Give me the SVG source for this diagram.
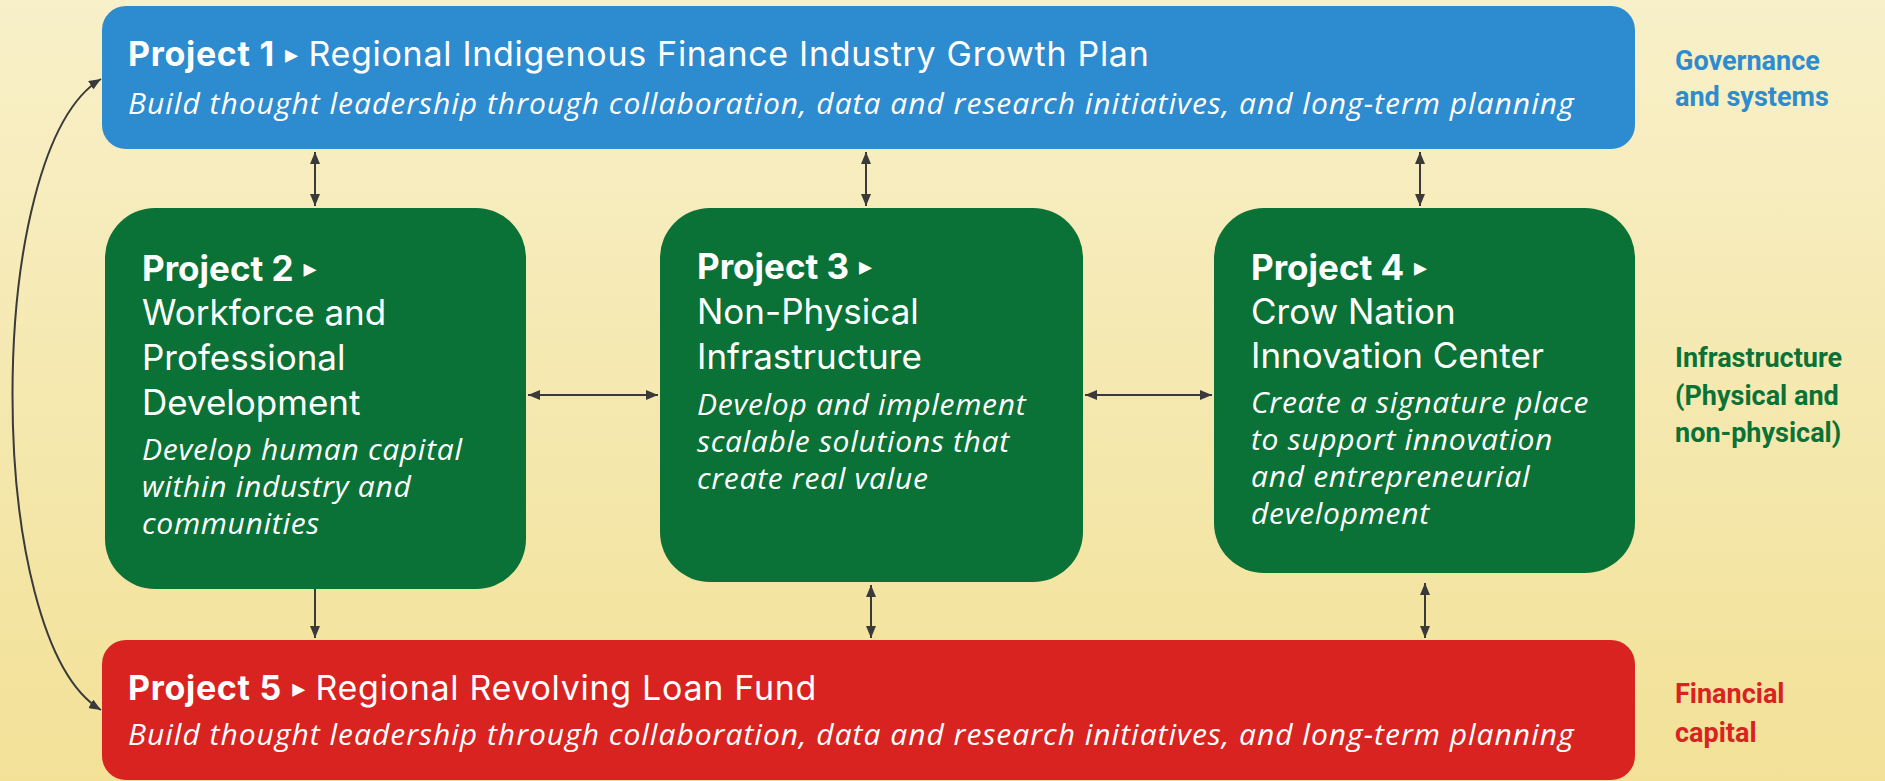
<svg xmlns="http://www.w3.org/2000/svg" width="1885" height="781" viewBox="0 0 1885 781">
<defs>
<linearGradient id="bg" x1="0" y1="0" x2="0" y2="1">
<stop offset="0" stop-color="#f8f0c9"/>
<stop offset="1" stop-color="#f2e197"/>
</linearGradient>
<marker id="ah" viewBox="0 0 12 10" refX="12" refY="5" markerWidth="12" markerHeight="10" markerUnits="userSpaceOnUse" orient="auto-start-reverse">
<path d="M0,0 L12,5 L0,10 Z" fill="#3a3a3a"/>
</marker>
<style>
.t{font-family:Inter,Roboto,"Liberation Sans",sans-serif;fill:#ffffff}
.b{font-weight:700}
.it{font-family:"Open Sans","Liberation Sans",sans-serif;font-style:italic;fill:#ffffff}
.wide{letter-spacing:0.7px}
.lbl{font-family:Roboto,"Liberation Sans",sans-serif;font-weight:700;font-size:27px}
.c{fill:none;stroke:#3a3a3a;stroke-width:2}
.tri{font-family:"DejaVu Sans",sans-serif;letter-spacing:0}
</style>
</defs>
<rect x="0" y="0" width="1885" height="781" fill="url(#bg)"/>

<g id="connectors">
<path class="c" d="M101,79 C-17,150 -17,640 101,710" marker-start="url(#ah)" marker-end="url(#ah)"/>
<line class="c" x1="315" y1="152" x2="315" y2="206" marker-start="url(#ah)" marker-end="url(#ah)"/>
<line class="c" x1="866" y1="152" x2="866" y2="206" marker-start="url(#ah)" marker-end="url(#ah)"/>
<line class="c" x1="1420" y1="152" x2="1420" y2="206" marker-start="url(#ah)" marker-end="url(#ah)"/>
<line class="c" x1="528" y1="395" x2="658" y2="395" marker-start="url(#ah)" marker-end="url(#ah)"/>
<line class="c" x1="1085" y1="395" x2="1212" y2="395" marker-start="url(#ah)" marker-end="url(#ah)"/>
<line class="c" x1="315" y1="589" x2="315" y2="638" marker-end="url(#ah)"/>
<line class="c" x1="871" y1="585" x2="871" y2="638" marker-start="url(#ah)" marker-end="url(#ah)"/>
<line class="c" x1="1425" y1="583" x2="1425" y2="638" marker-start="url(#ah)" marker-end="url(#ah)"/>
</g>

<g id="project1">
<rect x="102" y="6" width="1533" height="143" rx="24" fill="#2d8bcf"/>
<text class="t wide" x="128" y="66" font-size="34"><tspan class="b">Project 1</tspan> <tspan class="tri" font-size="26" dy="-3">▸</tspan><tspan dy="3"> Regional Indigenous Finance Industry Growth Plan</tspan></text>
<text class="it" x="128" y="114" font-size="30" letter-spacing="1">Build thought leadership through collaboration, data and research initiatives, and long-term planning</text>
</g>

<g id="project2">
<rect x="105" y="208" width="421" height="381" rx="50" fill="#0a7236"/>
<text class="t" font-size="35"><tspan x="142" y="281" class="b">Project 2</tspan> <tspan class="tri" font-size="26" dy="-4">▸</tspan><tspan x="142" y="325">Workforce and</tspan><tspan x="142" y="370">Professional</tspan><tspan x="142" y="415">Development</tspan></text>
<text class="it wide" font-size="30"><tspan x="142" y="460">Develop human capital</tspan><tspan x="142" y="497">within industry and</tspan><tspan x="142" y="534">communities</tspan></text>
</g>

<g id="project3">
<rect x="660" y="208" width="423" height="374" rx="50" fill="#0a7236"/>
<text class="t" font-size="35"><tspan x="697" y="279" class="b">Project 3</tspan> <tspan class="tri" font-size="26" dy="-4">▸</tspan><tspan x="697" y="324">Non-Physical</tspan><tspan x="697" y="369">Infrastructure</tspan></text>
<text class="it wide" font-size="30"><tspan x="697" y="415">Develop and implement</tspan><tspan x="697" y="452">scalable solutions that</tspan><tspan x="697" y="489">create real value</tspan></text>
</g>

<g id="project4">
<rect x="1214" y="208" width="421" height="365" rx="50" fill="#0a7236"/>
<text class="t" font-size="35"><tspan x="1251" y="280" class="b">Project 4</tspan> <tspan class="tri" font-size="26" dy="-4">▸</tspan><tspan x="1251" y="324">Crow Nation</tspan><tspan x="1251" y="368">Innovation Center</tspan></text>
<text class="it wide" font-size="30"><tspan x="1251" y="413">Create a signature place</tspan><tspan x="1251" y="450">to support innovation</tspan><tspan x="1251" y="487">and entrepreneurial</tspan><tspan x="1251" y="524">development</tspan></text>
</g>

<g id="project5">
<rect x="102" y="640" width="1533" height="140" rx="24" fill="#d92321"/>
<text class="t wide" x="128" y="700" font-size="34"><tspan class="b">Project 5</tspan> <tspan class="tri" font-size="26" dy="-3">▸</tspan><tspan dy="3"> Regional Revolving Loan Fund</tspan></text>
<text class="it" x="128" y="745" font-size="30" letter-spacing="1">Build thought leadership through collaboration, data and research initiatives, and long-term planning</text>
</g>

<g id="labels">
<text class="lbl" fill="#2d8bcf"><tspan x="1675" y="70">Governance</tspan><tspan x="1675" y="106">and systems</tspan></text>
<text class="lbl" fill="#0a7236"><tspan x="1675" y="367">Infrastructure</tspan><tspan x="1675" y="405">(Physical and</tspan><tspan x="1675" y="442">non-physical)</tspan></text>
<text class="lbl" fill="#d92321"><tspan x="1675" y="703">Financial</tspan><tspan x="1675" y="742">capital</tspan></text>
</g>
</svg>
